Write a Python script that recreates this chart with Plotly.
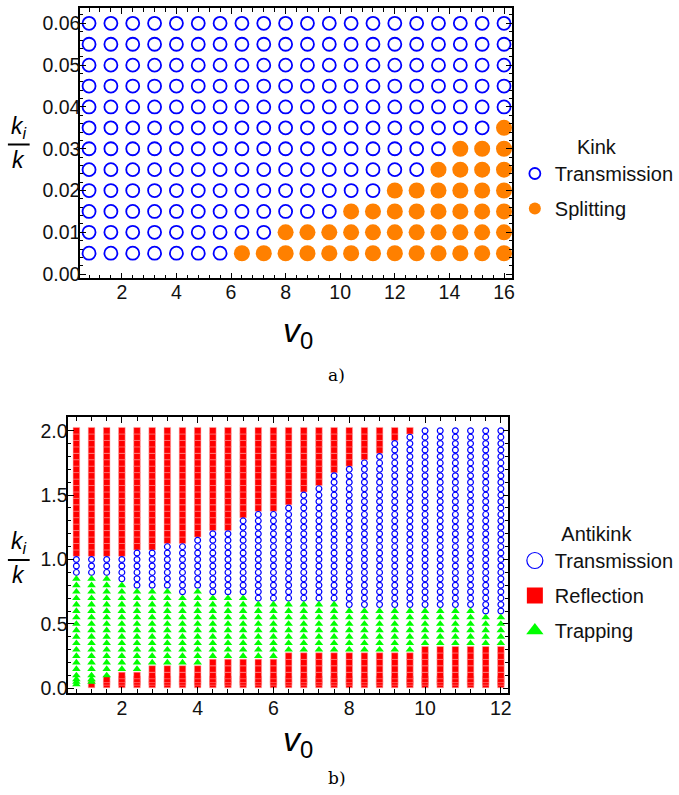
import plotly.graph_objects as go

# ---------------- data: panel a) Kink ----------------
kink_v0 = [0.8, 1.6, 2.4, 3.2, 4.0, 4.8, 5.6, 6.4, 7.2, 8.0,
           8.8, 9.6, 10.4, 11.2, 12.0, 12.8, 13.6, 14.4, 15.2, 16.0]
kink_ratio = [0.005, 0.01, 0.015, 0.02, 0.025, 0.03,
              0.035, 0.04, 0.045, 0.05, 0.055, 0.06]
# for each ratio row: smallest v0 at which splitting occurs (None = never)
kink_split_from = [6.4, 8.0, 10.4, 12.0, 13.6, 14.4, 16.0,
                   None, None, None, None, None]

# ---------------- data: panel b) Antikink ----------------
anti_v0 = [0.8, 1.2, 1.6, 2.0, 2.4, 2.8, 3.2, 3.6, 4.0, 4.4,
           4.8, 5.2, 5.6, 6.0, 6.4, 6.8, 7.2, 7.6, 8.0, 8.4,
           8.8, 9.2, 9.6, 10.0, 10.4, 10.8, 11.2, 11.6, 12.0]
anti_ratio = [0.03, 0.05, 0.07, 0.1, 0.15, 0.2, 0.25, 0.3, 0.35, 0.4,
              0.45, 0.5, 0.55, 0.6, 0.65, 0.7, 0.75, 0.8, 0.85, 0.9,
              0.95, 1.0, 1.05, 1.1, 1.15, 1.2, 1.25, 1.3, 1.35, 1.4,
              1.45, 1.5, 1.55, 1.6, 1.65, 1.7, 1.75, 1.8, 1.85, 1.9,
              1.95, 2.0]
# per v0 column: upper edge of low reflection band (0 = none)
anti_refl_low_top = [0, 0.03, 0.07, 0.1, 0.1, 0.15, 0.15, 0.15, 0.15, 0.2,
                     0.2, 0.2, 0.2, 0.2, 0.25, 0.25, 0.25, 0.25, 0.25, 0.25,
                     0.25, 0.25, 0.25, 0.3, 0.3, 0.3, 0.3, 0.3, 0.3]
# upper edge of trapping band
anti_trap_top = [0.85, 0.85, 0.85, 0.8, 0.75, 0.75, 0.75, 0.7, 0.75, 0.7,
                 0.7, 0.7, 0.65, 0.65, 0.65, 0.65, 0.65, 0.65, 0.6, 0.6,
                 0.6, 0.6, 0.6, 0.6, 0.6, 0.6, 0.6, 0.55, 0.55]
# upper edge of transmission band (above: reflection)
anti_trans_top = [1.0, 1.0, 1.0, 1.0, 1.05, 1.05, 1.1, 1.1, 1.15, 1.2,
                  1.2, 1.3, 1.35, 1.35, 1.4, 1.5, 1.55, 1.65, 1.7, 1.75,
                  1.8, 1.9, 1.95, 2.0, 2.0, 2.0, 2.0, 2.0, 2.0]

# ---------------- classification ----------------
EPS = 1e-9
kt_x, kt_y, ks_x, ks_y = [], [], [], []
for r, sf in zip(kink_ratio, kink_split_from):
    for v in kink_v0:
        if sf is not None and v >= sf - EPS:
            ks_x.append(v); ks_y.append(r)
        else:
            kt_x.append(v); kt_y.append(r)

at_x, at_y, ar_x, ar_y, ap_x, ap_y = [], [], [], [], [], []
for v, rl, tt, tr in zip(anti_v0, anti_refl_low_top, anti_trap_top, anti_trans_top):
    for r in anti_ratio:
        if r <= rl + EPS:
            ar_x.append(v); ar_y.append(r)
        elif r <= tt + EPS:
            ap_x.append(v); ap_y.append(r)
        elif r <= tr + EPS:
            at_x.append(v); at_y.append(r)
        else:
            ar_x.append(v); ar_y.append(r)

BLUE = "rgb(0,0,255)"
ORANGE = "rgb(255,128,0)"
RED = "rgb(255,0,0)"
GREEN = "rgb(0,255,0)"
FONT = "Liberation Sans, Arial, sans-serif"

W, H = 679, 795
def fx(p):
    return p / W
def fy(p):
    return 1 - p / H

fig = go.Figure()

# panel a
fig.add_trace(go.Scatter(x=kt_x, y=kt_y, mode="markers", xaxis="x", yaxis="y",
                         marker=dict(symbol="circle-open", size=13, color=BLUE,
                                     line=dict(width=1.8, color=BLUE)),
                         showlegend=False))
fig.add_trace(go.Scatter(x=ks_x, y=ks_y, mode="markers", xaxis="x", yaxis="y",
                         marker=dict(symbol="circle", size=16, color=ORANGE),
                         showlegend=False))
# panel b
fig.add_trace(go.Scatter(x=ar_x, y=ar_y, mode="markers", xaxis="x2", yaxis="y2",
                         marker=dict(symbol="square", size=6.6, color=RED,
                                     line=dict(width=0.5, color="rgb(255,170,170)")),
                         showlegend=False))
fig.add_trace(go.Scatter(x=at_x, y=at_y, mode="markers", xaxis="x2", yaxis="y2",
                         marker=dict(symbol="circle-open", size=5.8, color=BLUE,
                                     line=dict(width=1.2, color=BLUE)),
                         showlegend=False))
fig.add_trace(go.Scatter(x=ap_x, y=ap_y, mode="markers", xaxis="x2", yaxis="y2",
                         marker=dict(symbol="triangle-up", size=7.5, color=GREEN),
                         showlegend=False))

# legend entries
fig.add_trace(go.Scatter(x=[None], y=[None], mode="markers", name="Transmission",
                         xaxis="x", yaxis="y", legend="legend", legendgroup="a1",
                         marker=dict(symbol="circle-open", size=11, color=BLUE,
                                     line=dict(width=1.8, color=BLUE))))
fig.add_trace(go.Scatter(x=[None], y=[None], mode="markers", name="Splitting",
                         xaxis="x", yaxis="y", legend="legend", legendgroup="a2",
                         marker=dict(symbol="circle", size=12, color=ORANGE)))
fig.add_trace(go.Scatter(x=[None], y=[None], mode="markers", name="Transmission",
                         xaxis="x2", yaxis="y2", legend="legend2", legendgroup="b1",
                         marker=dict(symbol="circle-open", size=16, color=BLUE,
                                     line=dict(width=1.2, color=BLUE))))
fig.add_trace(go.Scatter(x=[None], y=[None], mode="markers", name="Reflection",
                         xaxis="x2", yaxis="y2", legend="legend2", legendgroup="b2",
                         marker=dict(symbol="square", size=16, color=RED)))
fig.add_trace(go.Scatter(x=[None], y=[None], mode="markers", name="Trapping",
                         xaxis="x2", yaxis="y2", legend="legend2", legendgroup="b3",
                         marker=dict(symbol="triangle-up", size=15, color=GREEN)))

TICKFONT = dict(family=FONT, size=19.5, color="#111")
axis_common = dict(showline=True, linecolor="black", linewidth=1.5, mirror="ticks",
                   ticks="inside", ticklen=6, tickwidth=1, tickcolor="black",
                   showgrid=False, zeroline=False, automargin=False,
                   tickfont=TICKFONT)

def minor(dt):
    return dict(dtick=dt, tick0=0, ticks="inside", ticklen=3.5,
                tickcolor="black", showgrid=False)

LEGFONT = dict(family=FONT, size=20, color="#111")
fig.update_layout(
    width=W, height=H,
    margin=dict(l=0, r=0, t=0, b=0),
    paper_bgcolor="white", plot_bgcolor="white",
    xaxis=dict(domain=[fx(81), fx(518.3)], range=[0.47, 16.3], anchor="y",
               dtick=2, tick0=0, minor=minor(0.4), ticklabelstandoff=-4,
               **axis_common),
    yaxis=dict(domain=[fy(278.3), fy(8.3)], range=[-0.001, 0.0636], anchor="x",
               dtick=0.01, tick0=0, tickformat=".2f", minor=minor(0.002),
               ticklabelstandoff=-6, **axis_common),
    xaxis2=dict(domain=[fx(69), fx(514.5)], range=[0.584, 12.2], anchor="y2",
                dtick=2, tick0=0, minor=minor(0.4), ticklabelstandoff=-3,
                **axis_common),
    yaxis2=dict(domain=[fy(692.7), fy(417.3)], range=[-0.034, 2.104], anchor="x2",
                dtick=0.5, tick0=0, tickformat=".1f", minor=minor(0.1),
                ticklabelstandoff=-5, **axis_common),
    legend=dict(x=fx(521), y=fy(128), xanchor="left", yanchor="top",
                title=dict(text="Kink", side="top center", font=LEGFONT),
                font=LEGFONT, bgcolor="rgba(0,0,0,0)", tracegroupgap=6,
                itemwidth=30),
    legend2=dict(x=fx(521), y=fy(515), xanchor="left", yanchor="top",
                 title=dict(text="Antikink", side="top center", font=LEGFONT),
                 font=LEGFONT, bgcolor="rgba(0,0,0,0)", tracegroupgap=6,
                 itemwidth=30),
)

ann_font_k = dict(family=FONT, size=23, color="black")
V0FONT = dict(family=FONT, size=34, color="black")
SERIF = dict(family="DejaVu Serif, Liberation Serif, serif", size=17, color="black")

def ann(x, y, text, font, yanchor="middle"):
    return dict(x=fx(x), y=fy(y), text=text, showarrow=False, xref="paper",
                yref="paper", xanchor="center", yanchor=yanchor, font=font)

annotations = [
    ann(302, 332, "<i>v</i><sub>0</sub>", V0FONT),
    ann(302, 741, "<i>v</i><sub>0</sub>", V0FONT),
    ann(341, 375, "a)", SERIF),
    ann(341, 778, "b)", SERIF),
    ann(19, 144, "<i>k<sub>i</sub></i>", ann_font_k, "bottom"),
    ann(19, 145, "<i>k</i>", ann_font_k, "top"),
    ann(19, 559, "<i>k<sub>i</sub></i>", ann_font_k, "bottom"),
    ann(19, 560, "<i>k</i>", ann_font_k, "top"),
]
fig.update_layout(annotations=annotations)
fig.add_shape(type="line", xref="paper", yref="paper", x0=fx(8), x1=fx(30),
              y0=fy(144.5), y1=fy(144.5), line=dict(color="black", width=2))
fig.add_shape(type="line", xref="paper", yref="paper", x0=fx(8), x1=fx(30),
              y0=fy(560), y1=fy(560), line=dict(color="black", width=2))

fig.write_html("out.html", config={"displayModeBar": False},
               post_script="document.body.style.margin='0px';")
